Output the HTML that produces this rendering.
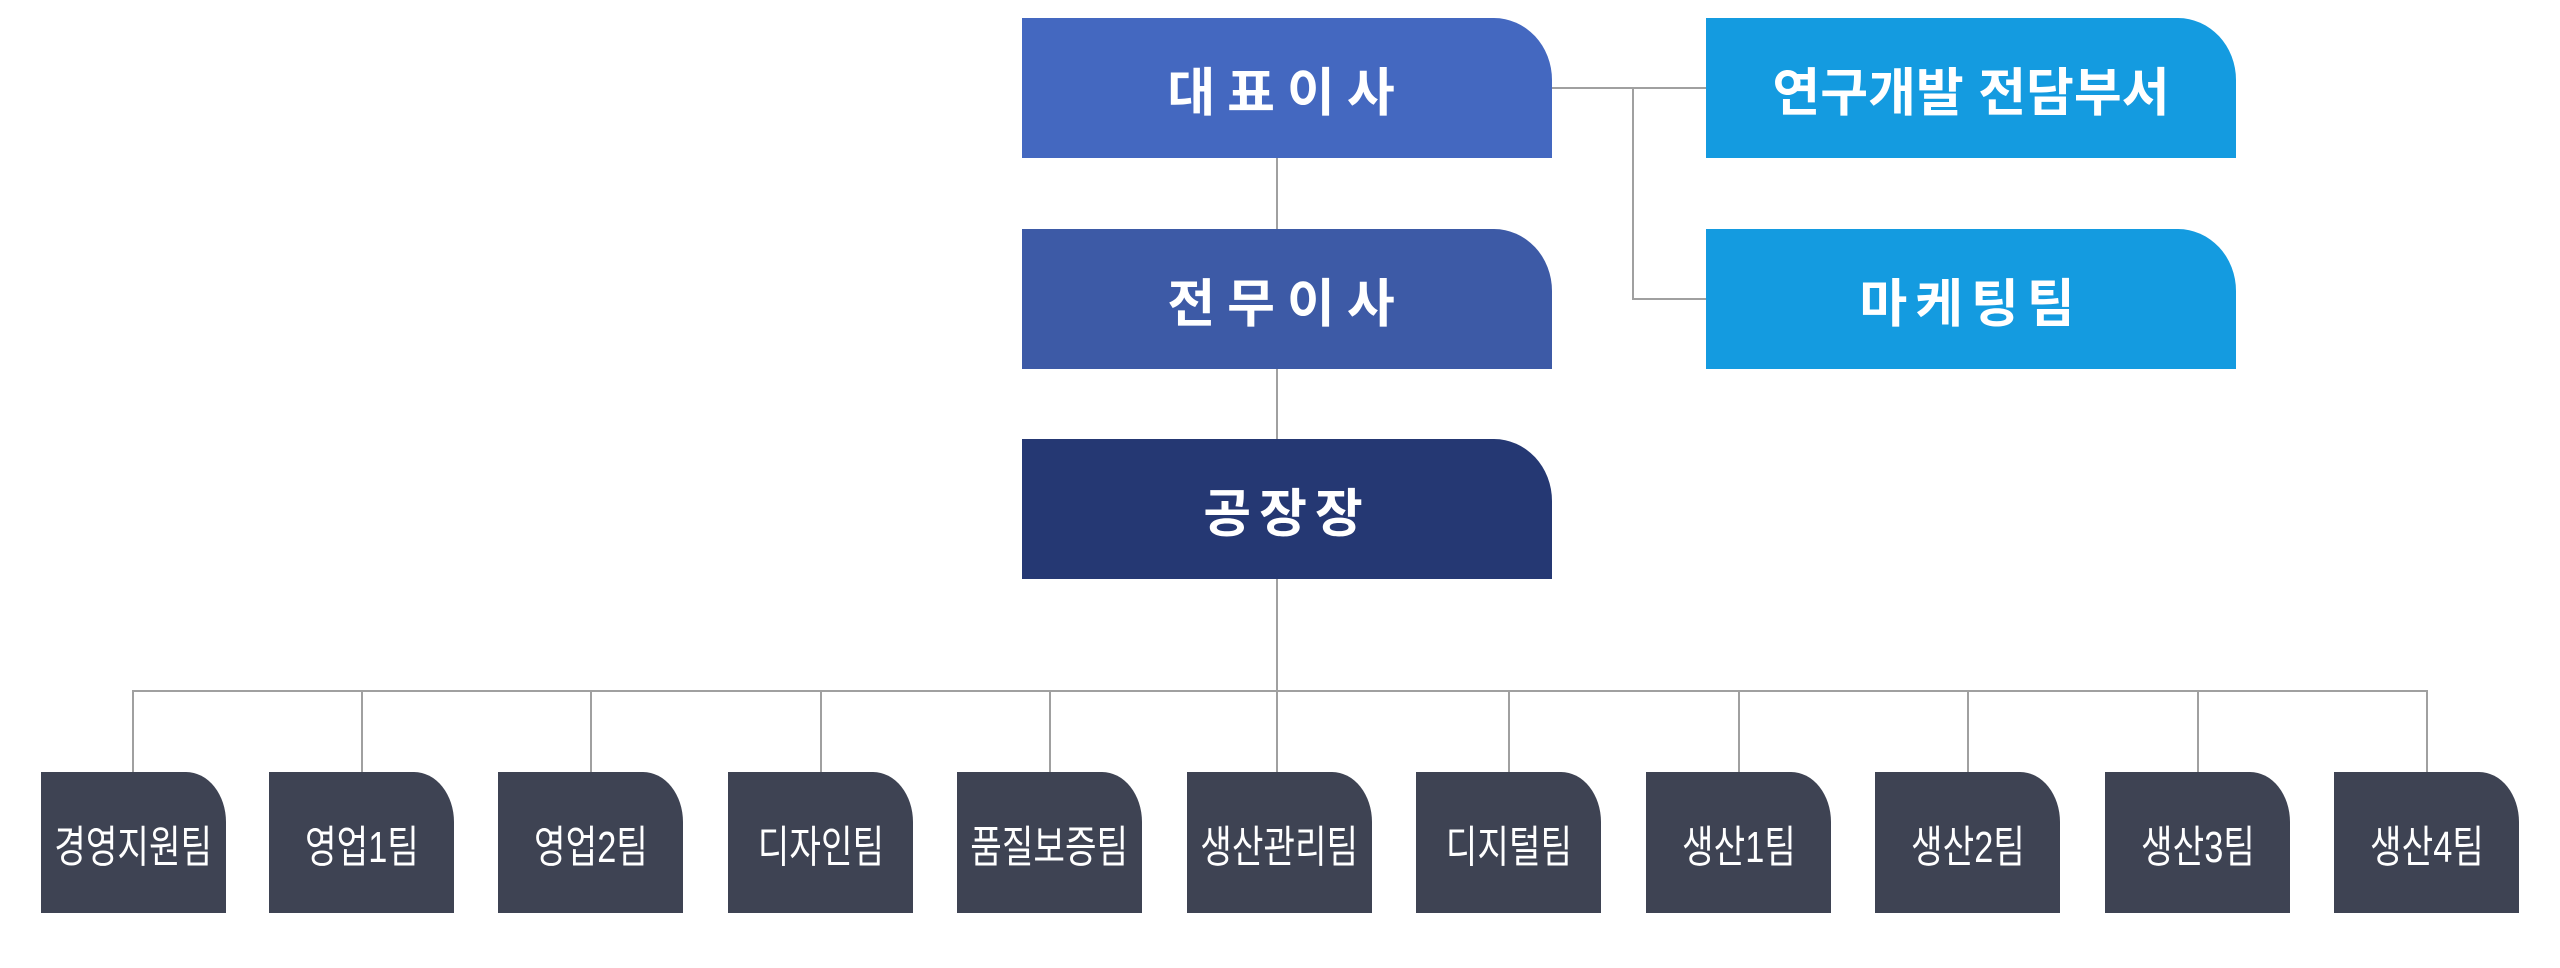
<!DOCTYPE html>
<html><head><meta charset="utf-8"><style>
html,body{margin:0;padding:0;background:#fff;}
body{width:2560px;height:968px;position:relative;overflow:hidden;font-family:"Liberation Sans","Noto Sans CJK KR",sans-serif;}
.b{position:absolute;color:#fff;display:flex;align-items:center;justify-content:center;font-weight:bold;white-space:nowrap;}
.t{width:530px;height:140px;top:18px;border-top-right-radius:58px 62px;font-size:52px;}
.s{width:185px;height:141px;top:772px;background:#3e4353;border-top-right-radius:40px 50px;font-size:44px;font-weight:normal;}
.s span{display:inline-block;transform:scaleX(0.78);}
.l{position:absolute;background:#a0a0a0;}
</style></head><body>
<div class="l" style="left:1276px;top:158px;width:2px;height:614px;"></div>
<div class="l" style="left:1551px;top:87px;width:155px;height:2px;"></div>
<div class="l" style="left:1632px;top:87px;width:2px;height:212px;"></div>
<div class="l" style="left:1632px;top:298px;width:74px;height:2px;"></div>
<div class="l" style="left:132px;top:690px;width:2296px;height:2px;"></div>
<div class="l" style="left:132px;top:690px;width:2px;height:82px;"></div>
<div class="l" style="left:361px;top:690px;width:2px;height:82px;"></div>
<div class="l" style="left:590px;top:690px;width:2px;height:82px;"></div>
<div class="l" style="left:820px;top:690px;width:2px;height:82px;"></div>
<div class="l" style="left:1049px;top:690px;width:2px;height:82px;"></div>
<div class="l" style="left:1508px;top:690px;width:2px;height:82px;"></div>
<div class="l" style="left:1738px;top:690px;width:2px;height:82px;"></div>
<div class="l" style="left:1967px;top:690px;width:2px;height:82px;"></div>
<div class="l" style="left:2197px;top:690px;width:2px;height:82px;"></div>
<div class="l" style="left:2426px;top:690px;width:2px;height:82px;"></div>

<div class="b t" style="left:1022px;background:#4468c0;letter-spacing:12px;">대표이사</div>
<div class="b t" style="left:1022px;top:229px;background:#3d5aa6;letter-spacing:12px;">전무이사</div>
<div class="b t" style="left:1022px;top:439px;background:#253873;letter-spacing:8px;">공장장</div>
<div class="b t" style="left:1706px;background:#149be0;">연구개발 전담부서</div>
<div class="b t" style="left:1706px;top:229px;background:#149be0;letter-spacing:8px;">마케팅팀</div>

<div class="b s" style="left:41px;"><span>경영지원팀</span></div>
<div class="b s" style="left:269px;"><span>영업1팀</span></div>
<div class="b s" style="left:498px;"><span>영업2팀</span></div>
<div class="b s" style="left:728px;"><span>디자인팀</span></div>
<div class="b s" style="left:957px;"><span>품질보증팀</span></div>
<div class="b s" style="left:1187px;"><span>생산관리팀</span></div>
<div class="b s" style="left:1416px;"><span>디지털팀</span></div>
<div class="b s" style="left:1646px;"><span>생산1팀</span></div>
<div class="b s" style="left:1875px;"><span>생산2팀</span></div>
<div class="b s" style="left:2105px;"><span>생산3팀</span></div>
<div class="b s" style="left:2334px;"><span>생산4팀</span></div>
</body></html>
